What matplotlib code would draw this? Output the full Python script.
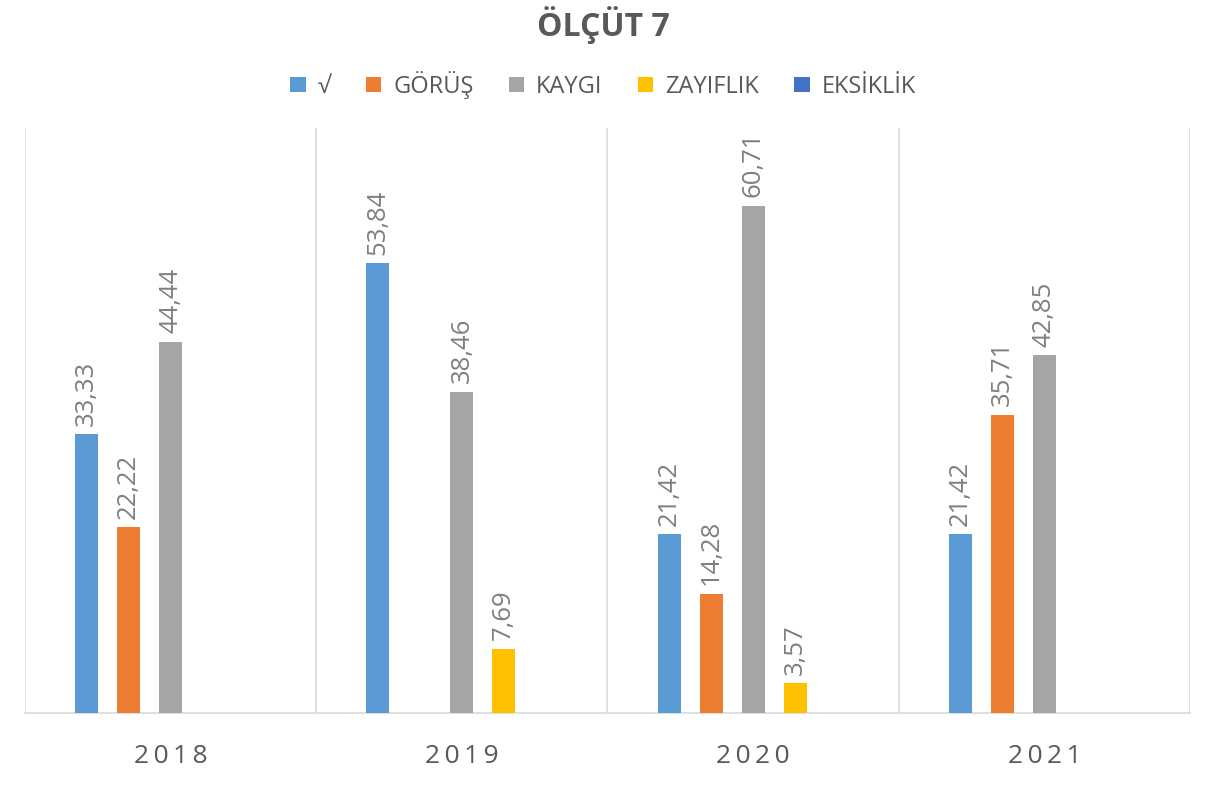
import matplotlib
matplotlib.use("Agg")
import matplotlib.pyplot as plt
import numpy as np

plt.rcParams['font.family'] = ['Open Sans', 'DejaVu Sans']

years = ["2018", "2019", "2020", "2021"]
series = ["√", "GÖRÜŞ", "KAYGI", "ZAYIFLIK", "EKSİKLİK"]
colors = ["#5b9bd5", "#ed7d31", "#a5a5a5", "#ffc000", "#4472c4"]

tick_v = [33.33, 53.84, 21.42, 21.42]
gorus = [22.22, 0, 14.28, 35.71]
kaygi = [44.44, 38.46, 60.71, 42.85]
zayiflik = [0, 7.69, 3.57, 0]
eksiklik = [0, 0, 0, 0]
values = [tick_v, gorus, kaygi, zayiflik, eksiklik]

fig = plt.figure(figsize=(12.06, 7.85), dpi=100)
ax = fig.add_axes([0.0207, 0.0917, 0.966, 0.7452])

x = np.arange(len(years))
step = 0.1443
width = 0.079
for i, (name, vals, c) in enumerate(zip(series, values, colors)):
    pos = x + (i - 2) * step
    ax.bar(pos, vals, width, color=c, label=name, zorder=3)
    for px, v in zip(pos, vals):
        if v > 0:
            ax.annotate(f"{v:.2f}".replace(".", ","), (px, v), xytext=(0, 6),
                        textcoords="offset points", rotation=90, ha="center",
                        va="bottom", fontsize=18.5, color="#7f7f7f")

ax.set_xlim(-0.5, 3.5)
ax.set_ylim(0, 70)
for b in np.arange(-0.5, 4.0, 1.0):
    ax.axvline(b, color="#d9d9d9", lw=1.2, zorder=1)
for s in ["top", "right", "left"]:
    ax.spines[s].set_visible(False)
ax.spines["bottom"].set_color("#d9d9d9")
ax.spines["bottom"].set_linewidth(1.2)
ax.set_yticks([])
ax.set_xticks(x)
ax.set_xticklabels([" ".join(y).replace(" ", "\u2009") for y in years],
                   fontsize=19, color="#595959")
ax.tick_params(axis="x", length=0, pad=22)

fig.text(0.5, 0.968, "ÖLÇÜT 7", ha="center", va="center", fontsize=23,
         fontweight="bold", color="#595959")
fig.legend(loc="center", bbox_to_anchor=(0.5, 0.892), ncol=5, frameon=False,
           fontsize=17, handlelength=0.65, handleheight=0.65, columnspacing=1.5,
           handletextpad=0.5, labelcolor="#595959")

fig.savefig("out.png", dpi=100)
